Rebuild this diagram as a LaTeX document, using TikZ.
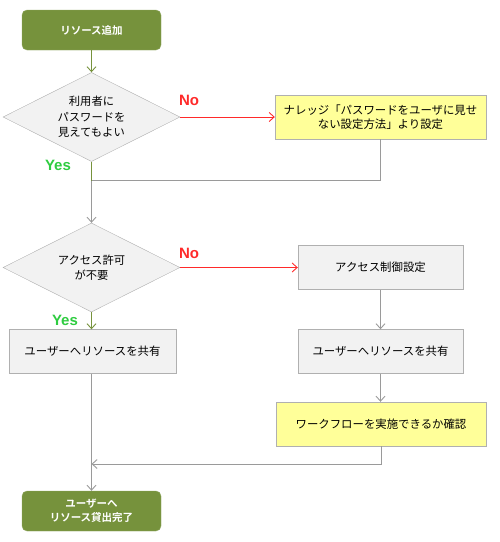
\documentclass[tikz,border=0pt]{standalone}
\usepackage{fontspec}
\setmainfont{Noto Sans CJK JP}[BoldFont={Noto Sans CJK JP Bold}]
\newfontfamily\latinbold{Liberation Sans}[BoldFont={Liberation Sans Bold}]
\usetikzlibrary{arrows.meta,positioning,shapes.geometric}
\definecolor{flOlive}{HTML}{76923C}
\definecolor{flGrey}{HTML}{9A9A9A}
\definecolor{flEdge}{HTML}{B0B0B0}
\definecolor{flFill}{HTML}{F2F2F2}
\definecolor{flNote}{HTML}{FFFF99}
\definecolor{flRed}{HTML}{FF2A2A}
\definecolor{flYes}{HTML}{2ECC40}
\tikzset{
  >={Straight Barb[length=5pt,width=9pt]},
  term/.style={rounded corners=5pt, fill=flOlive, draw=flOlive!80!white,
              text=white, align=center, minimum width=139pt, minimum height=40pt,
              inner sep=2pt, font=\bfseries\fontsize{10.5}{14}\selectfont},
  decision/.style={diamond, aspect=2, draw=flEdge, fill=flFill, align=center,
              minimum width=177pt, minimum height=89pt, inner sep=0pt,
              font=\fontsize{11.3}{15.5}\selectfont},
  proc/.style={draw=flEdge, fill=flFill, align=center, minimum height=44pt,
              inner sep=2pt, font=\fontsize{11.4}{14}\selectfont},
  note/.style={proc, fill=flNote},
  lbl/.style={font=\latinbold\bfseries\fontsize{15}{15}\selectfont},
  flow/.style={->, draw=flGrey, line width=0.9pt},
  okflow/.style={->, draw=flOlive, line width=0.9pt},
  ngflow/.style={->, draw=flRed, line width=0.9pt},
}

\begin{document}
\begin{tikzpicture}[x=1pt,y=-1pt]
    \useasboundingbox (0,0) rectangle (500,542);
    \node[term] (start) at (91.5,30) {リソース追加};
    \node[decision] (ask) at (91.5,117) {利用者に\\パスワードを\\見えてもよい};
    \node[note,minimum width=211pt] (hide) at (380.5,117)
         {ナレッジ「パスワードをユーザに見せ\\ない設定方法」より設定};
    \coordinate (join) at (91.5,180.5);
    \node[decision] (acc) at (91.5,267.5) {アクセス許可\\が不要};
    \node[proc,minimum width=167pt] (shareL) at (92.5,351.5) {ユーザーへリソースを共有};
    \node[proc,minimum width=165pt] (ctrl) at (380.5,267.5) {アクセス制御設定};
    \node[proc,minimum width=165pt] (shareR) at (380.5,351.5) {ユーザーへリソースを共有};
    \node[note,minimum width=210pt] (check) at (381,424) {ワークフローを実施できるか確認};
    \coordinate (merge) at (91.5,464);
    \node[term] (done) at (91.5,511) {ユーザーへ\\リソース貸出完了};

    \draw[okflow] (start) -- (ask);
    \draw[ngflow] (ask.east) -- (hide.west);
    \draw[draw=flOlive, line width=0.9pt] (ask.south) -- (join);
    \draw[draw=flGrey, line width=0.9pt] (hide.south) |- (join);
    \draw[flow] (join) -- (acc.north);
    \draw[ngflow] (acc.east) -- (acc.east -| ctrl.west);
    \draw[okflow] (acc.south) -- (acc.south |- shareL.north);
    \draw[flow] (ctrl) -- (shareR);
    \draw[flow] (shareR) -- (shareR.south |- check.north);
    \draw[flow] (check.south) |- (merge);
    \draw[flow] (shareL.south -| done.north) -- (done.north);

    \node[lbl,text=flRed] (no1) at (189,100) {No};
    \node[lbl,text=flYes] (yes1) at (58,165) {Yes};
    \node[lbl,text=flRed] (no2) at (189,253) {No};
    \node[lbl,text=flYes] (yes2) at (65,320) {Yes};
\end{tikzpicture}
\end{document}
